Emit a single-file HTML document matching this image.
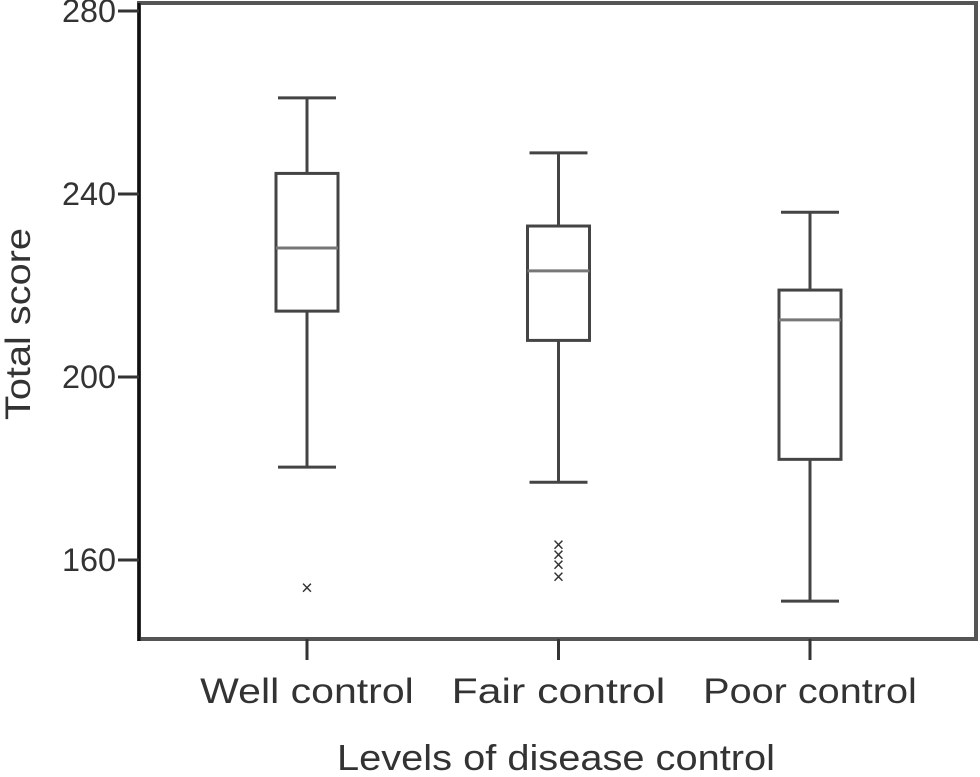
<!DOCTYPE html>
<html><head><meta charset="utf-8"><style>body{margin:0;background:#fff}svg{display:block}text{font-family:"Liberation Sans",sans-serif;fill:#333}</style></head>
<body>
<svg id="chart" width="980" height="777" xmlns="http://www.w3.org/2000/svg">
<rect x="139" y="3" width="837" height="636" fill="none" stroke="#555" stroke-width="4"/>
<line x1="139" y1="3" x2="139" y2="641" stroke="#111" stroke-width="3"/>
<g id="yticks"></g><g id="xticks"></g><g id="boxes"></g>
<text transform="translate(30,324) rotate(-90)" text-anchor="middle" font-size="35" textLength="192" lengthAdjust="spacingAndGlyphs">Total score</text>
<text x="556" y="770" text-anchor="middle" font-size="36" textLength="438" lengthAdjust="spacingAndGlyphs">Levels of disease control</text>
</svg>
<script>
const categories=["Well control","Fair control","Poor control"];
const whiskerHigh=[261,249,236];
const q3=[244.5,233,219];
const median=[228.2,223.2,212.5];
const q1=[214.4,208,182];
const whiskerLow=[180.3,177,151];
const outliers=[[154],[163.4,161.2,159,156.4],[]];
const yTicks=[160,200,240,280];
const NS="http://www.w3.org/2000/svg";
const y=v=>11+(280-v)*4.575;
const x=i=>307+i*251.5;
function mk(p,t,a){const e=document.createElementNS(NS,t);for(const k in a)e.setAttribute(k,a[k]);p.appendChild(e);return e;}
const yt=document.getElementById('yticks'),xt=document.getElementById('xticks'),bx=document.getElementById('boxes');
yTicks.forEach(v=>{
  const l=mk(yt,'line',{x1:118,x2:139,y1:y(v),y2:y(v),stroke:'#333','stroke-width':3});
  
  
  const t=mk(yt,'text',{x:116,y:y(v)+11,'text-anchor':'end','font-size':32,textLength:54,lengthAdjust:'spacingAndGlyphs'});
  t.textContent=v;
  
  
});
categories.forEach((c,i)=>{
  const cx=x(i);
  const tk=mk(xt,'line',{x1:cx,x2:cx,y1:639,y2:660,stroke:'#333','stroke-width':3});
  
  
  const t=mk(xt,'text',{x:cx,y:703,'text-anchor':'middle','font-size':35,textLength:c.length*17.8,lengthAdjust:'spacingAndGlyphs'});
  t.textContent=c;
  
  
  const g=mk(bx,'g',{stroke:'#444','stroke-width':3,fill:'none'});
  
  
  mk(g,'line',{x1:cx,x2:cx,y1:y(whiskerHigh[i]),y2:y(q3[i])});
  mk(g,'line',{x1:cx,x2:cx,y1:y(q1[i]),y2:y(whiskerLow[i])});
  mk(g,'line',{x1:cx-29,x2:cx+29,y1:y(whiskerHigh[i]),y2:y(whiskerHigh[i])});
  mk(g,'line',{x1:cx-29,x2:cx+29,y1:y(whiskerLow[i]),y2:y(whiskerLow[i])});
  mk(g,'rect',{x:cx-31,y:y(q3[i]),width:62,height:y(q1[i])-y(q3[i])});
  mk(g,'line',{x1:cx-31,x2:cx+31,y1:y(median[i]),y2:y(median[i]),stroke:'#777'});
  outliers[i].forEach(o=>{
    const t=mk(bx,'text',{x:cx,y:y(o)+7,'text-anchor':'middle','font-size':20,fill:'#444'});
    t.textContent='×';
    
    
  });
});
</script>
</body></html>
